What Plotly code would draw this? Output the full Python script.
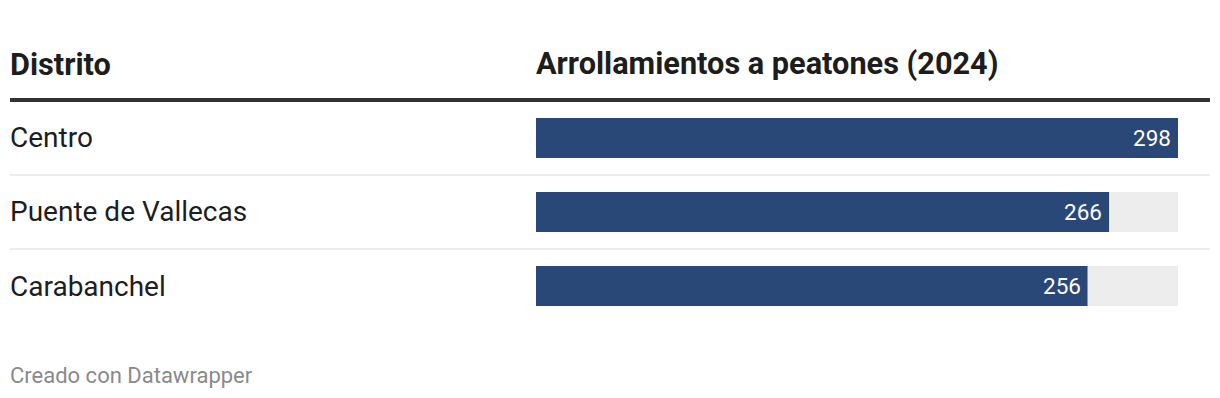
import plotly.graph_objects as go

districts = ["Centro", "Puente de Vallecas", "Carabanchel"]
values = [298, 266, 256]
col_header_left = "Distrito"
col_header_right = "Arrollamientos a peatones (2024)"
footer = "Creado con Datawrapper"

W, H = 1220, 398
BAR_COLOR = "#2a4877"
BG_COLOR = "#ededed"

def px_x(x):
    return x / W

def px_y(y):
    return 1 - y / H

vmax = max(values)

fig = go.Figure()
fig.add_trace(go.Bar(
    x=[vmax] * len(districts), y=districts, orientation="h",
    marker=dict(color=BG_COLOR, line=dict(width=0)),
    width=0.54, hoverinfo="skip", showlegend=False,
))
fig.add_trace(go.Bar(
    x=values, y=districts, orientation="h",
    marker=dict(color=BAR_COLOR, line=dict(width=0)),
    width=0.54, showlegend=False,
))

annotations = []
for d, v in zip(districts, values):
    annotations.append(dict(
        x=v, y=d, xref="x", yref="y", text=str(v), showarrow=False,
        xanchor="right", yanchor="middle", xshift=-5,
        font=dict(family="Roboto", size=22.5, color="white"),
    ))
    annotations.append(dict(
        x=px_x(8), y=d, xref="paper", yref="y", text=d, showarrow=False,
        xanchor="left", yanchor="middle",
        font=dict(family="Roboto", size=28, color="#1d1d1d"),
    ))

annotations += [
    dict(x=px_x(8), y=px_y(64), xref="paper", yref="paper", text="<b>" + col_header_left + "</b>",
         showarrow=False, xanchor="left", yanchor="middle",
         font=dict(family="Roboto", size=30.7, color="#1d1d1d")),
    dict(x=px_x(534), y=px_y(64), xref="paper", yref="paper", text="<b>" + col_header_right + "</b>",
         showarrow=False, xanchor="left", yanchor="middle",
         font=dict(family="Roboto", size=30.7, color="#1d1d1d")),
    dict(x=px_x(8), y=px_y(375), xref="paper", yref="paper", text=footer,
         showarrow=False, xanchor="left", yanchor="middle",
         font=dict(family="Roboto", size=22, color="#8a8a8a")),
]

shapes = [
    dict(type="line", xref="paper", yref="paper", x0=px_x(10), x1=px_x(1210),
         y0=px_y(100), y1=px_y(100), line=dict(color="#333333", width=4)),
]
for i in range(len(districts) - 1):
    shapes.append(dict(type="line", xref="paper", yref="y", x0=px_x(10), x1=px_x(1210),
                       y0=i + 0.5, y1=i + 0.5, line=dict(color="#e6e6e6", width=1.5)))

fig.update_layout(
    width=W, height=H,
    margin=dict(l=0, r=0, t=0, b=0),
    paper_bgcolor="white", plot_bgcolor="white",
    barmode="overlay",
    xaxis=dict(domain=[px_x(536), px_x(1178)], range=[0, vmax], visible=False, fixedrange=True),
    yaxis=dict(domain=[px_y(323), px_y(101)], range=[2.5, -0.5], visible=False,
               type="category", fixedrange=True),
    annotations=annotations,
    shapes=shapes,
    font=dict(family="Roboto"),
)

fig.write_html("out.html", config={"displayModeBar": False},
               post_script="document.body.style.margin='0';document.body.style.overflow='hidden';")
